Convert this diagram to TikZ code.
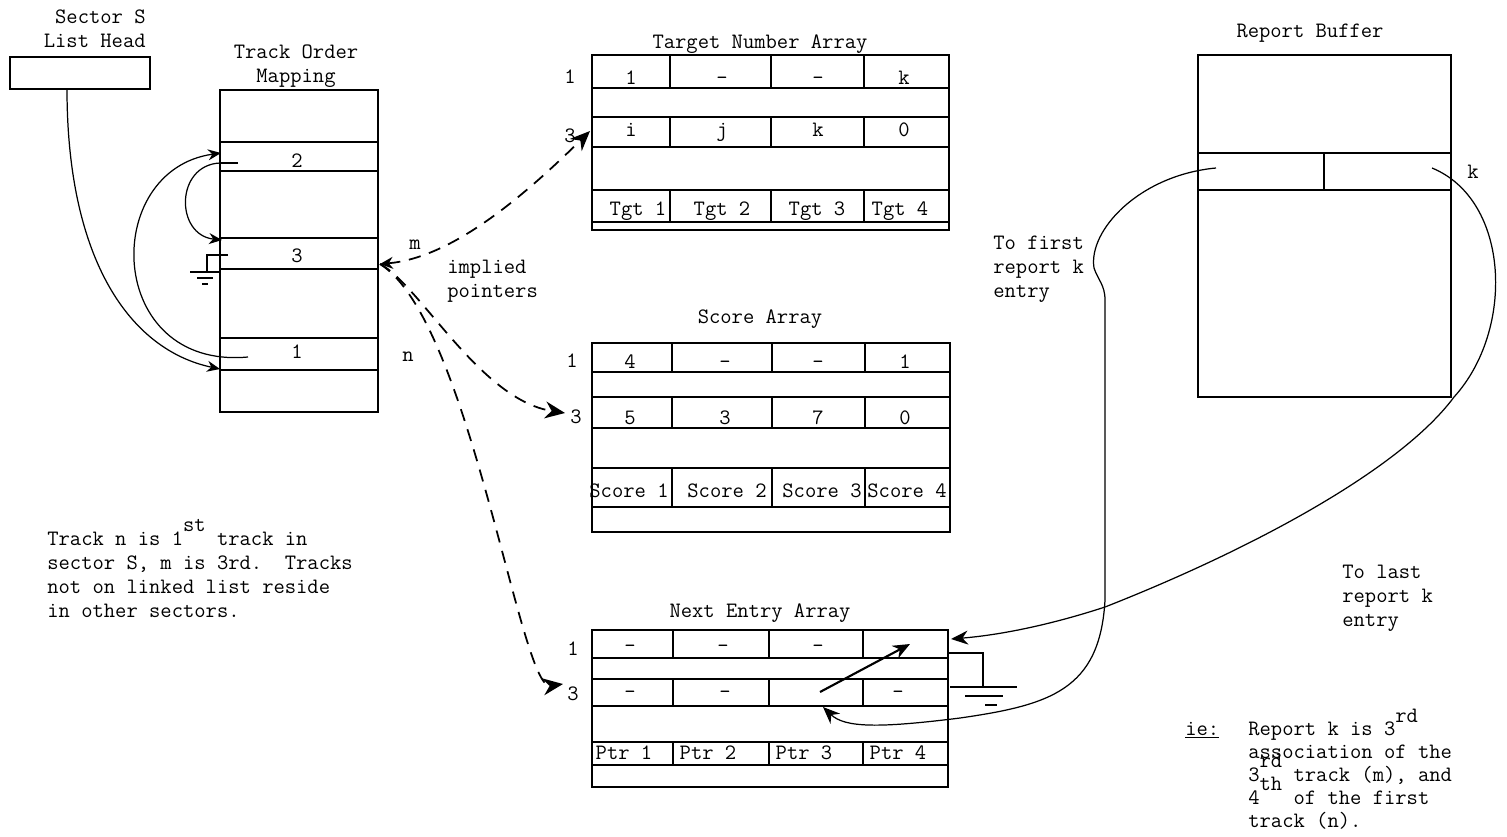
\documentclass[tikz,border=0pt]{standalone}
\usetikzlibrary{arrows.meta}
\newcommand{\supx}[1]{\smash{\raisebox{0.62em}{#1}}}

\begin{document}
\begin{tikzpicture}[x=0.02cm, y=-0.02cm,
    tbl/.style={line width=1pt},
    lnk/.style={line width=0.7pt},
    dlnk/.style={line width=1pt, dash pattern=on 7pt off 5pt},
    lbl/.style={inner sep=0pt, font=\fontsize{12.5}{13.6}\selectfont\ttfamily},
    blk/.style={lbl, align=left, anchor=base west},
    tip/.style={-{Stealth[length=2.6mm,width=2.2mm]}},
    bigtip/.style={-{Stealth[length=4mm,width=3.4mm]}}
]
\useasboundingbox (0,0) rectangle (1507,836);

% sector list head
\node[lbl, align=right, anchor=base east] (headtitle) at (146,47) {Sector S\\List Head};
\draw[tbl] (10,57) rectangle (150,89);
\coordinate (headout) at (67,89);

% track order mapping
\node[lbl, align=center, anchor=base] (tomtitle) at (296,82) {Track Order\\Mapping};
\draw[tbl] (220,90) rectangle (378,412);
\foreach \y in {142,171,238,269,338,370}
  \draw[tbl] (220,\y) -- (378,\y);
\node[lbl, anchor=base] (tom2) at (297,167) {2};
\node[lbl, anchor=base] (tom3) at (297,262) {3};
\node[lbl, anchor=base] (tom1) at (297,358) {1};
\coordinate (tomr1in) at (220,369);
\coordinate (tomr1out) at (248,357);
\coordinate (tomr2in) at (221,153);
\coordinate (tomr2p) at (238,163);
\coordinate (tomr2out) at (220,163);
\coordinate (tomr3in) at (222,240);
\coordinate (tomr3p) at (228,255);
\coordinate (tomgnd) at (207,272);
\coordinate (tomr3out) at (380,264);

% linked list
\draw[lnk, tip] (headout) .. controls (67,260) and (130,350) .. (tomr1in);
\draw[lnk, tip] (tomr1out) .. controls (105,370) and (100,170) .. (tomr2in);
\draw[lnk] (tomr2p) -- (tomr2out);
\draw[lnk, tip] (tomr2out) .. controls (175,165) and (175,235) .. (tomr3in);
\draw[lnk] (tomr3p) -- (207,255) -- (tomgnd);
\draw[line width=1.3pt] (190,272) -- (220,272) (197,278) -- (213,278) (202,284) -- (208,284);

\node[lbl, anchor=base] (mlabel) at (415,249) {m};
\node[lbl, anchor=base] (nlabel) at (408,361) {n};
\node[blk] (implied) at (447,297) {implied\\pointers};

% target number array
\node[lbl, anchor=base] (tnatitle) at (760,48) {Target Number Array};
\draw[tbl] (592,55) rectangle (949,230);
\foreach \y in {88,117,147,190,222}
  \draw[tbl] (592,\y) -- (949,\y);
\foreach \x in {670,771,864}
  \draw[tbl] (\x,55) -- (\x,88) (\x,117) -- (\x,147) (\x,190) -- (\x,222);
\foreach \x/\a/\b/\c [count=\i] in {631/1/i/638, 722/-/j/722, 818/-/k/817, 904/k/0/900} {
  \node[lbl, anchor=base] (tna-a\i) at (\x,84) {\a};
  \node[lbl, anchor=base] (tna-b\i) at (\x,136) {\b};
  \node[lbl, anchor=base] (tna-c\i) at (\c,215) {Tgt \i};
}
\node[lbl, anchor=base] (tnarow1) at (570,83) {1};
\node[lbl, anchor=base] (tnarow3) at (570,142) {3};
\coordinate (tnain) at (590,131);

% score array
\node[lbl, anchor=base] (sctitle) at (760,323) {Score Array};
\draw[tbl] (592,343) rectangle (950,532);
\foreach \y in {372,397,428,468,507}
  \draw[tbl] (592,\y) -- (950,\y);
\foreach \x in {672,772,865}
  \draw[tbl] (\x,343) -- (\x,372) (\x,397) -- (\x,428) (\x,468) -- (\x,507);
\foreach \x/\a/\b/\c [count=\i] in {630/4/5/629, 725/-/3/727, 818/-/7/822, 905/1/0/907} {
  \node[lbl, anchor=base] (sc-a\i) at (\x,368) {\a};
  \node[lbl, anchor=base] (sc-b\i) at (\x,424) {\b};
  \node[lbl, anchor=base] (sc-c\i) at (\c,497) {Score \i};
}
\node[lbl, anchor=base] (scrow1) at (572,367) {1};
\node[lbl, anchor=base] (scrow3) at (576,423) {3};
\coordinate (scin) at (565,413);

% next entry array
\node[lbl, anchor=base] (netitle) at (760,617) {Next Entry Array};
\draw[tbl] (592,630) rectangle (948,787);
\foreach \y in {658,679,706,742,765}
  \draw[tbl] (592,\y) -- (948,\y);
\foreach \x in {673,769,863}
  \draw[tbl] (\x,630) -- (\x,658) (\x,679) -- (\x,706) (\x,742) -- (\x,765);
\foreach \x/\a/\b/\c [count=\i] in {630/-/-/624, 723/-/-/708, 818/-/-/804, 898//-/898} {
  \node[lbl, anchor=base] (ne-a\i) at (\x,652) {\a};
  \node[lbl, anchor=base] (ne-c\i) at (\c,759) {Ptr \i};
}
\node[lbl, anchor=base] (ne-b1) at (630,698) {-};
\node[lbl, anchor=base] (ne-b2) at (725,698) {-};
\node[lbl, anchor=base] (ne-b4) at (898,698) {-};
\node[lbl, anchor=base] (nerow1) at (573,655) {1};
\node[lbl, anchor=base] (nerow3) at (573,700) {3};
\coordinate (nein) at (563,684);
\coordinate (ner3c3) at (820,692);
\coordinate (ner1c4) at (910,644);
\coordinate (ner3c3b) at (823,707);
\coordinate (ner1end) at (951,639);
\draw[line width=1.2pt, -{Stealth[length=3.4mm,width=2.8mm]}] (ner3c3) -- (ner1c4);
\draw[tbl] (948,653) -- (983,653) -- (983,687);
\draw[line width=1.4pt] (950,687) -- (1017,687) (965,696) -- (1003,696) (985,705) -- (997,705);

% implied pointers
\draw[dlnk, {Stealth[length=2.6mm,width=2.4mm]}-{Stealth[length=4mm,width=3.4mm]}] (tomr3out) .. controls (450,258) and (520,200) .. (tnain);
\draw[dlnk, bigtip] (tomr3out) .. controls (420,285) and (480,400) .. (scin);
\draw[dlnk, bigtip] (tomr3out) .. controls (470,320) and (520,690) .. (nein);

% report buffer
\node[lbl, anchor=base] (rbtitle) at (1310,37) {Report Buffer};
\draw[tbl] (1198,55) rectangle (1451,397);
\draw[tbl] (1198,153) -- (1451,153) (1198,190) -- (1451,190) (1324,153) -- (1324,190);
\node[lbl, anchor=base] (rbk) at (1473,178) {k};
\coordinate (rbfirst) at (1216,168);
\coordinate (rblast) at (1432,168);

\draw[lnk, -{Stealth[length=3.4mm,width=2.8mm]}] (rbfirst) .. controls (1140,175) and (1088,230) .. (1094,268)
  .. controls (1098,280) and (1105,285) .. (1105,300) -- (1105,600)
  .. controls (1100,690) and (1050,705) .. (960,718)
  .. controls (880,728) and (845,728) .. (ner3c3b);
\draw[lnk, -{Stealth[length=3.4mm,width=2.8mm]}] (rblast) .. controls (1510,200) and (1515,330) .. (1454,397)
  .. controls (1400,470) and (1250,550) .. (1105,607)
  .. controls (1050,625) and (1000,635) .. (ner1end);

% notes
\node[blk] (firstnote) at (993,297) {To first\\report k\\entry};
\node[blk] (lastnote) at (1342,626) {To last\\report k\\entry};
\node[blk] (tracknote) at (47,617) {Track n is 1\supx{st} track in\\sector S, m is 3rd.\ \ Tracks\\not on linked list reside\\in other sectors.};
\node[lbl, anchor=base west] (ienote) at (1185,735) {\underline{ie:}};
\node[blk, font=\fontsize{12.5}{13}\selectfont\ttfamily] (assocnote) at (1248,827) {Report k is 3\supx{rd}\\association of the\\3\supx{rd} track (m), and\\4\supx{th} of the first\\track (n).};
\end{tikzpicture}
\end{document}
